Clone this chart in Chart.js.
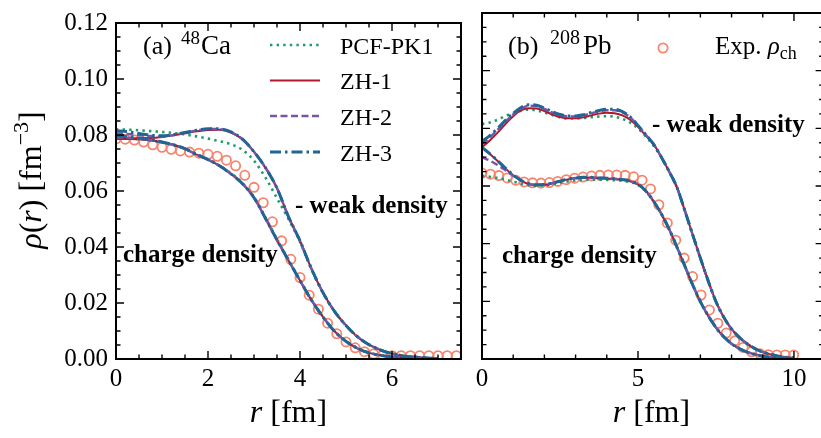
<!DOCTYPE html>
<html>
<head>
<meta charset="utf-8">
<script src="https://cdn.jsdelivr.net/npm/chart.js@4.4.0/dist/chart.umd.min.js"></script>
<style>
  body { margin: 0; background: #fff; }
  #wrap { position: relative; width: 821px; height: 438px; overflow: hidden; }
  canvas { position: absolute; top: 0; }
</style>
</head>
<body>
<div id="wrap">
  <canvas id="ca" width="470" height="438" style="left:0"></canvas>
  <canvas id="pb" width="360" height="438" style="left:470px"></canvas>
</div>
<script>
const SERIF = "Liberation Serif, Times New Roman, serif";
Chart.defaults.font.family = SERIF;
Chart.defaults.color = '#000';

// ---- (a) 48Ca ----
const rCa = [0, 0.25, 0.5, 0.75, 1, 1.25, 1.5, 1.75, 2, 2.25, 2.5, 2.75, 3, 3.25, 3.5, 3.75,
  4, 4.25, 4.5, 4.75, 5, 5.25, 5.5, 5.75, 6, 6.25, 6.5, 6.75, 7];
const caWeakPCF = [0.0820, 0.0819, 0.0817, 0.0814, 0.0811, 0.0807, 0.0802, 0.0795, 0.0787, 0.0778, 0.0767, 0.0747,
  0.0708, 0.0648, 0.0574, 0.0500, 0.0418, 0.0320, 0.0236, 0.0170, 0.0120, 0.0080, 0.0052, 0.0033, 0.0020, 0.0012, 0.0007, 0.0004, 0.0002];
const caWeakZH1 = [0.0788, 0.0788, 0.0788, 0.0789, 0.0793, 0.0799, 0.0806, 0.0813, 0.0818, 0.0819, 0.0809, 0.0784,
  0.0740, 0.0683, 0.0610, 0.0508, 0.0422, 0.0322, 0.0237, 0.0170, 0.0120, 0.0079, 0.0051, 0.0032, 0.0019, 0.0011, 0.0007, 0.0004, 0.0002];
const caWeakZH2 = [0.0806, 0.0804, 0.0800, 0.0796, 0.0795, 0.0800, 0.0808, 0.0816, 0.0821, 0.0821, 0.0810, 0.0785,
  0.0740, 0.0683, 0.0610, 0.0508, 0.0422, 0.0322, 0.0237, 0.0170, 0.0120, 0.0079, 0.0051, 0.0032, 0.0019, 0.0011, 0.0007, 0.0004, 0.0002];
const caWeakZH3 = [0.0815, 0.0812, 0.0805, 0.0799, 0.0797, 0.0801, 0.0809, 0.0817, 0.0822, 0.0822, 0.0811, 0.0785,
  0.0740, 0.0683, 0.0610, 0.0508, 0.0422, 0.0322, 0.0237, 0.0170, 0.0120, 0.0079, 0.0051, 0.0032, 0.0019, 0.0011, 0.0007, 0.0004, 0.0002];
const caChPCF = [0.0790, 0.0788, 0.0785, 0.0780, 0.0773, 0.0764, 0.0751, 0.0732, 0.0713, 0.0691, 0.0663, 0.0628,
  0.0578, 0.0505, 0.0428, 0.0355, 0.0282, 0.0212, 0.0151, 0.0100, 0.0064, 0.0039, 0.0023, 0.0014, 0.0008, 0.0005, 0.0003, 0.0002, 0.0001];
const caChZH1 = [0.0786, 0.0786, 0.0785, 0.0781, 0.0774, 0.0765, 0.0751, 0.0730, 0.0712, 0.0690, 0.0661, 0.0626,
  0.0576, 0.0502, 0.0425, 0.0352, 0.0280, 0.0210, 0.0150, 0.0099, 0.0063, 0.0038, 0.0022, 0.0013, 0.0008, 0.0005, 0.0003, 0.0002, 0.0001];
const caChZH2 = [0.0792, 0.0790, 0.0787, 0.0782, 0.0775, 0.0765, 0.0751, 0.0730, 0.0712, 0.0690, 0.0661, 0.0626,
  0.0576, 0.0502, 0.0425, 0.0352, 0.0280, 0.0210, 0.0150, 0.0099, 0.0063, 0.0038, 0.0022, 0.0013, 0.0008, 0.0005, 0.0003, 0.0002, 0.0001];
const caChZH3 = [0.0797, 0.0794, 0.0789, 0.0783, 0.0775, 0.0765, 0.0751, 0.0730, 0.0712, 0.0690, 0.0661, 0.0626,
  0.0576, 0.0502, 0.0425, 0.0352, 0.0280, 0.0210, 0.0150, 0.0099, 0.0063, 0.0038, 0.0022, 0.0013, 0.0008, 0.0005, 0.0003, 0.0002, 0.0001];
const rCaExp = [0, 0.2, 0.4, 0.6, 0.8, 1.0, 1.2, 1.4, 1.6, 1.8, 2.0, 2.2, 2.4, 2.6, 2.8, 3.0, 3.2, 3.4, 3.6,
  3.8, 4.0, 4.2, 4.4, 4.6, 4.8, 5.0, 5.2, 5.4, 5.6, 5.8, 6.0, 6.2, 6.4, 6.6, 6.8, 7.0, 7.2, 7.4];
const caExp = [0.0786, 0.0785, 0.0782, 0.0775, 0.0765, 0.0756, 0.0749, 0.0743, 0.0739, 0.0735, 0.0731, 0.0724,
  0.0710, 0.0690, 0.0656, 0.0613, 0.0558, 0.0490, 0.0422, 0.0356, 0.0291, 0.0228, 0.0178, 0.0128, 0.0090, 0.0061,
  0.0040, 0.0026, 0.0018, 0.0014, 0.0012, 0.0012, 0.0012, 0.0012, 0.0012, 0.0012, 0.0012, 0.0012];

// ---- (b) 208Pb ----
const rPb = [0, 0.25, 0.5, 0.75, 1, 1.25, 1.5, 1.75, 2, 2.25, 2.5, 2.75, 3, 3.25, 3.5, 3.75, 4, 4.25, 4.5, 4.75,
  5, 5.25, 5.5, 5.75, 6, 6.25, 6.5, 6.75, 7, 7.25, 7.5, 7.75, 8, 8.25, 8.5, 8.75, 9, 9.25, 9.5, 9.75, 10];
const pbWeakPCF = [0.0815, 0.0820, 0.0830, 0.0843, 0.0853, 0.0861, 0.0865, 0.0862, 0.0855, 0.0846, 0.0838, 0.0834,
  0.0834, 0.0836, 0.0839, 0.0841, 0.0842, 0.0840, 0.0833, 0.0820, 0.0800, 0.0772, 0.0740, 0.0700, 0.0650, 0.0595,
  0.0515, 0.0432, 0.0350, 0.0271, 0.0199, 0.0145, 0.0104, 0.0075, 0.0053, 0.0036, 0.0024, 0.0016, 0.0010, 0.0006, 0.0004];
const pbWeakZH1 = [0.0734, 0.0758, 0.0785, 0.0815, 0.0842, 0.0862, 0.0870, 0.0869, 0.0860, 0.0848, 0.0839, 0.0835,
  0.0835, 0.0838, 0.0845, 0.0851, 0.0854, 0.0852, 0.0845, 0.0830, 0.0805, 0.0775, 0.0745, 0.0700, 0.0650, 0.0595,
  0.0515, 0.0432, 0.0350, 0.0271, 0.0199, 0.0145, 0.0104, 0.0075, 0.0053, 0.0036, 0.0024, 0.0016, 0.0010, 0.0006, 0.0004];
const pbWeakZH2 = [0.0745, 0.0768, 0.0795, 0.0823, 0.0848, 0.0868, 0.0878, 0.0877, 0.0867, 0.0855, 0.0846, 0.0841,
  0.0841, 0.0845, 0.0852, 0.0859, 0.0863, 0.0863, 0.0855, 0.0838, 0.0810, 0.0778, 0.0745, 0.0700, 0.0650, 0.0595,
  0.0515, 0.0432, 0.0350, 0.0271, 0.0199, 0.0145, 0.0104, 0.0075, 0.0053, 0.0036, 0.0024, 0.0016, 0.0010, 0.0006, 0.0004];
const pbWeakZH3 = [0.0755, 0.0775, 0.0800, 0.0828, 0.0852, 0.0872, 0.0882, 0.0880, 0.0870, 0.0858, 0.0848, 0.0843,
  0.0843, 0.0847, 0.0855, 0.0862, 0.0866, 0.0866, 0.0858, 0.0840, 0.0810, 0.0778, 0.0745, 0.0700, 0.0650, 0.0595,
  0.0515, 0.0432, 0.0350, 0.0271, 0.0199, 0.0145, 0.0104, 0.0075, 0.0053, 0.0036, 0.0024, 0.0016, 0.0010, 0.0006, 0.0004];
const pbChPCF = [0.0635, 0.0632, 0.0628, 0.0622, 0.0615, 0.0608, 0.0603, 0.0601, 0.0602, 0.0606, 0.0611, 0.0616,
  0.0619, 0.0621, 0.0622, 0.0622, 0.0621, 0.0620, 0.0618, 0.0614, 0.0604, 0.0582, 0.0546, 0.0503, 0.0450, 0.0388,
  0.0323, 0.0258, 0.0199, 0.0150, 0.0109, 0.0077, 0.0053, 0.0036, 0.0024, 0.0016, 0.0010, 0.0006, 0.0004, 0.0003, 0.0002];
const pbChZH1 = [0.0734, 0.0711, 0.0687, 0.0661, 0.0637, 0.0619, 0.0607, 0.0603, 0.0604, 0.0609, 0.0616, 0.0623,
  0.0627, 0.0629, 0.0629, 0.0628, 0.0626, 0.0624, 0.0621, 0.0616, 0.0605, 0.0583, 0.0547, 0.0503, 0.0450, 0.0388,
  0.0323, 0.0258, 0.0199, 0.0150, 0.0109, 0.0077, 0.0053, 0.0036, 0.0024, 0.0016, 0.0010, 0.0006, 0.0004, 0.0003, 0.0002];
const pbChZH2 = [0.0700, 0.0688, 0.0673, 0.0655, 0.0636, 0.0619, 0.0608, 0.0604, 0.0605, 0.0610, 0.0617, 0.0624,
  0.0628, 0.0630, 0.0630, 0.0628, 0.0627, 0.0625, 0.0622, 0.0617, 0.0606, 0.0583, 0.0547, 0.0503, 0.0450, 0.0388,
  0.0323, 0.0258, 0.0199, 0.0150, 0.0109, 0.0077, 0.0053, 0.0036, 0.0024, 0.0016, 0.0010, 0.0006, 0.0004, 0.0003, 0.0002];
const pbChZH3 = [0.0734, 0.0712, 0.0688, 0.0662, 0.0638, 0.0620, 0.0608, 0.0604, 0.0605, 0.0610, 0.0617, 0.0624,
  0.0628, 0.0630, 0.0630, 0.0628, 0.0627, 0.0625, 0.0622, 0.0617, 0.0606, 0.0583, 0.0547, 0.0503, 0.0450, 0.0388,
  0.0323, 0.0258, 0.0199, 0.0150, 0.0109, 0.0077, 0.0053, 0.0036, 0.0024, 0.0016, 0.0010, 0.0006, 0.0004, 0.0003, 0.0002];
const rPbExp = [0, 0.27, 0.54, 0.81, 1.08, 1.35, 1.62, 1.89, 2.16, 2.43, 2.70, 2.97, 3.24, 3.51, 3.78, 4.05, 4.32,
  4.59, 4.86, 5.13, 5.40, 5.67, 5.94, 6.21, 6.48, 6.75, 7.02, 7.29, 7.56, 7.83, 8.10, 8.37, 8.64, 8.91, 9.18, 9.45, 9.72, 9.99];
const pbExp = [0.0645, 0.0641, 0.0636, 0.0628, 0.0620, 0.0614, 0.0611, 0.0610, 0.0612, 0.0616, 0.0622, 0.0627,
  0.0631, 0.0635, 0.0637, 0.0638, 0.0638, 0.0637, 0.0632, 0.0620, 0.0590, 0.0535, 0.0472, 0.0412, 0.0350, 0.0286,
  0.0222, 0.0170, 0.0124, 0.0090, 0.0063, 0.0040, 0.0025, 0.0018, 0.0015, 0.0014, 0.0014, 0.0014];

const yTicks = [0, 0.02, 0.04, 0.06, 0.08, 0.10, 0.12];
const xTicksCa = [0, 2, 4, 6];
const xTicksPb = [0, 5, 10];

const models = ['PCF-PK1', 'ZH-1', 'ZH-2', 'ZH-3'];
const modelStyle = {
  'PCF-PK1': { color: '#22996a', width: 2.6, dash: [2.4, 4.2] },
  'ZH-1': { color: '#b3172b', width: 2, dash: [] },
  'ZH-2': { color: '#7556ab', width: 2.5, dash: [7, 3.5] },
  'ZH-3': { color: '#1f6694', width: 3, dash: [11, 4, 2.5, 4] },
};
const expColor = '#f7846b';

const font = (size, style) => (style ? style + ' ' : '') + size + 'px ' + SERIF;

function pts(xs, ys) { return ys.map((y, i) => ({ x: xs[i], y: y })); }

function buildDatasets(r, weak, charge, rExp, exp) {
  const ds = [];
  models.forEach((m, i) => {
    const st = modelStyle[m];
    [weak[i], charge[i]].forEach(arr => ds.push({
      label: m, data: pts(r, arr), showLine: true, pointRadius: 0,
      borderColor: st.color, borderWidth: st.width, borderDash: st.dash,
      cubicInterpolationMode: 'monotone', order: 4 - i
    }));
  });
  ds.push({
    label: 'Exp', data: pts(rExp, exp), showLine: false, pointRadius: 4.6,
    pointBorderWidth: 1.8, pointBorderColor: expColor, pointBackgroundColor: 'rgba(0,0,0,0)', order: 9
  });
  return ds;
}

// text made of runs with different fonts (sub/superscripts, italics); a run may carry its own x
function drawRuns(ctx, x, y, parts, align) {
  let w = 0;
  parts.forEach(p => { ctx.font = p.font; p.w = ctx.measureText(p.t).width; w += p.w; });
  let cx = align === 'center' ? x - w / 2 : x;
  ctx.textAlign = 'left';
  ctx.textBaseline = 'alphabetic';
  ctx.fillStyle = '#000';
  parts.forEach(p => {
    if (p.x !== undefined) cx = p.x;
    ctx.font = p.font; ctx.fillText(p.t, cx, y + (p.dy || 0)); cx += p.w;
  });
}

function lineSample(ctx, m, x0, x1, y) {
  const st = modelStyle[m];
  ctx.save();
  ctx.strokeStyle = st.color;
  ctx.lineWidth = st.width;
  ctx.setLineDash(st.dash);
  ctx.beginPath(); ctx.moveTo(x0, y); ctx.lineTo(x1, y); ctx.stroke();
  ctx.restore();
}

// inward major/minor ticks on all four sides + frame
function frameAndTicks(chart, xMajor, xMinor, yMinor) {
  const { ctx, chartArea: a, scales: { x, y } } = chart;
  ctx.save();
  ctx.strokeStyle = '#000';
  ctx.lineWidth = 1.4;
  for (let v = 0; v <= x.max + 1e-9; v += xMinor) {
    const px = x.getPixelForValue(v);
    const len = xMajor.some(t => Math.abs(t - v) < 1e-6) ? 8 : 4.5;
    ctx.beginPath();
    ctx.moveTo(px, a.bottom); ctx.lineTo(px, a.bottom - len);
    ctx.moveTo(px, a.top); ctx.lineTo(px, a.top + len);
    ctx.stroke();
  }
  for (let v = 0; v <= y.max + 1e-9; v += yMinor) {
    const py = y.getPixelForValue(v);
    const len = yTicks.some(t => Math.abs(t - v) < 1e-6) ? 8 : 4.5;
    ctx.beginPath();
    ctx.moveTo(a.left, py); ctx.lineTo(a.left + len, py);
    ctx.moveTo(a.right, py); ctx.lineTo(a.right - len, py);
    ctx.stroke();
  }
  ctx.lineWidth = 2;
  ctx.strokeRect(a.left, a.top, a.right - a.left, a.bottom - a.top);
  ctx.restore();
}

function xTitle(chart, cx) {
  drawRuns(chart.ctx, cx, 422,
    [{ t: 'r', font: font(32, 'italic') }, { t: ' [fm]', font: font(32) }], 'center');
}

function baseOptions(xMax, xTicks, padding, showY) {
  return {
    responsive: false,
    animation: false,
    layout: { padding: padding },
    plugins: { legend: { display: false }, tooltip: { enabled: false } },
    scales: {
      x: {
        type: 'linear', min: 0, max: xMax,
        grid: { display: false, drawTicks: false }, border: { display: false },
        ticks: { color: '#000', font: { family: SERIF, size: 25 }, padding: 5, maxRotation: 0 },
        afterBuildTicks: s => { s.ticks = xTicks.map(v => ({ value: v })); },
        afterFit: s => { s.height = 79; }
      },
      y: {
        type: 'linear', min: 0, max: 0.12, display: showY,
        grid: { display: false, drawTicks: false }, border: { display: false },
        ticks: { color: '#000', font: { family: SERIF, size: 25 }, padding: 8, callback: v => v.toFixed(2) },
        afterBuildTicks: s => { s.ticks = yTicks.map(v => ({ value: v })); },
        afterFit: s => { s.width = showY ? 116 : 0; }
      }
    }
  };
}

new Chart(document.getElementById('ca'), {
  type: 'scatter',
  data: {
    datasets: buildDatasets(rCa, [caWeakPCF, caWeakZH1, caWeakZH2, caWeakZH3],
      [caChPCF, caChZH1, caChZH2, caChZH3], rCaExp, caExp)
  },
  options: baseOptions(7.5, xTicksCa, { top: 13, right: 9, left: 0, bottom: 0 }, true),
  plugins: [{
    id: 'caDecor',
    afterDatasetsDraw(chart) {
      frameAndTicks(chart, xTicksCa, 0.5, 0.005);
    },
    afterDraw(chart) {
      const ctx = chart.ctx;
      const a = chart.chartArea;
      xTitle(chart, (a.left + a.right) / 2);
      ctx.save();
      ctx.translate(41, 180);
      ctx.rotate(-Math.PI / 2);
      drawRuns(ctx, 0, 0, [
        { t: 'ρ', font: font(32, 'italic') }, { t: '(', font: font(32) }, { t: 'r', font: font(32, 'italic') },
        { t: ') [fm', font: font(32) }, { t: '−3', font: font(22), dy: -13 }, { t: ']', font: font(32) }
      ], 'center');
      ctx.restore();
      drawRuns(ctx, 143, 54, [
        { t: '(a)', font: font(26) }, { t: '48', font: font(19), dy: -10, x: 181 }, { t: 'Ca', font: font(27), x: 201 }
      ]);
      const rows = [45, 80.5, 116, 152];
      models.forEach((m, i) => {
        lineSample(ctx, m, 270, 320, rows[i]);
        drawRuns(ctx, 340, rows[i] + 8.5, [{ t: m, font: font(24) }]);
      });
      drawRuns(ctx, 295, 213, [{ t: '- weak density', font: font(25, 'bold') }]);
      drawRuns(ctx, 123, 262, [{ t: 'charge density', font: font(25, 'bold') }]);
    }
  }]
});

new Chart(document.getElementById('pb'), {
  type: 'scatter',
  data: {
    datasets: buildDatasets(rPb, [pbWeakPCF, pbWeakZH1, pbWeakZH2, pbWeakZH3],
      [pbChPCF, pbChZH1, pbChZH2, pbChZH3], rPbExp, pbExp)
  },
  options: baseOptions(10.95, xTicksPb, { top: 13, right: 0, left: 12, bottom: 0 }, false),
  plugins: [{
    id: 'pbDecor',
    afterDatasetsDraw(chart) {
      frameAndTicks(chart, xTicksPb, 1, 0.005);
    },
    afterDraw(chart) {
      const ctx = chart.ctx;
      // title centred on the visible part of the panel
      xTitle(chart, (chart.chartArea.left + 351) / 2);
      drawRuns(ctx, 38, 54, [
        { t: '(b)', font: font(26) }, { t: '208', font: font(20), dy: -10, x: 80 }, { t: 'Pb', font: font(27), x: 113 }
      ]);
      ctx.save();
      ctx.strokeStyle = expColor;
      ctx.lineWidth = 1.8;
      ctx.beginPath(); ctx.arc(193, 48, 4.6, 0, Math.PI * 2); ctx.stroke();
      ctx.restore();
      drawRuns(ctx, 245, 54, [
        { t: 'Exp. ', font: font(25) }, { t: 'ρ', font: font(25, 'italic') }, { t: 'ch', font: font(18), dy: 5 }
      ]);
      drawRuns(ctx, 182, 132, [{ t: '- weak density', font: font(25, 'bold') }]);
      drawRuns(ctx, 32, 263, [{ t: 'charge density', font: font(25, 'bold') }]);
    }
  }]
});
</script>
</body>
</html>
